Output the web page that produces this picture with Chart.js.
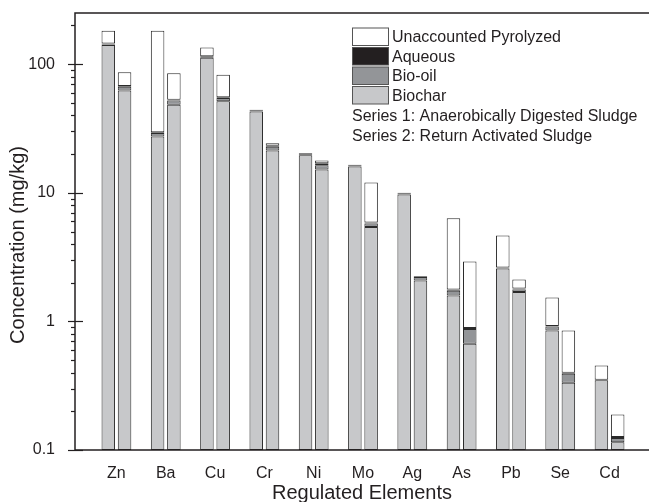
<!DOCTYPE html>
<html>
<head>
<meta charset="utf-8">
<script src="https://cdn.jsdelivr.net/npm/chart.js@4"></script>
<style>
  html, body { margin: 0; padding: 0; background: #fff; overflow: hidden; }
  #wrap { width: 649px; height: 502px; position: relative; }
</style>
</head>
<body>
<div id="wrap"><canvas id="chart"></canvas></div>
<script>
// Categories
const elements = ['Zn', 'Ba', 'Cu', 'Cr', 'Ni', 'Mo', 'Ag', 'As', 'Pb', 'Se', 'Cd'];

// Series 1: Anaerobically Digested Sludge (segment amounts, mg/kg)
const biochar1  = [141, 27.4, 112, 42.8, 19.6, 16.0, 9.7, 1.59, 2.58, 0.851, 0.348];
const bioOil1   = [1.5, 1.8, 1.5, 0.6, 0.3, 0.2, 0.15, 0.14, 0.02, 0.06, 0.002];
const aqueous1  = [2.5, 0.4, 1.5, 0.8, 0.4, 0.3, 0.15, 0.04, 0.02, 0.01, 0.002];
const unacc1    = [37, 152.4, 20, 0, 0, 0, 0, 4.58, 2.04, 0.61, 0.101];

// Series 2: Return Activated Sludge
const biochar2  = [62.4, 48.3, 51.5, 21.3, 15.2, 5.41, 2.08, 0.671, 1.69, 0.334, 0.115];
const bioOil2   = [4.4, 3.8, 3.0, 1.5, 1.2, 0.37, 0.13, 0.2, 0.08, 0.058, 0.009];
const aqueous2  = [1.0, 0.7, 0.8, 0.4, 0.6, 0.1, 0.03, 0.016, 0.03, 0.007, 0.002];
const unacc2    = [18.7, 32.2, 27.3, 1.1, 0.8, 6.12, 0, 2.04, 0.32, 0.452, 0.063];

// Y axis tick labels (powers of ten only)
const yLabels = ['0.1', '1', '10', '100'];
const yTitle = 'Concentration (mg/kg)';

const legendItems = [
    { text: 'Unaccounted Pyrolyzed', color: '#ffffff' },
    { text: 'Aqueous', color: '#231f20' },
    { text: 'Bio-oil', color: '#939598' },
    { text: 'Biochar', color: '#c7c8ca' }
];
const legendNotes = ['Series 1: Anaerobically Digested Sludge', 'Series 2: Return Activated Sludge'];

const ink = '#231f20';
const fontFamily = "'Liberation Sans', Arial, Helvetica, sans-serif";
Chart.defaults.font.family = fontFamily;
Chart.defaults.color = ink;

function makeSet(label, values, color, stack) {
    return {
        label: label,
        data: values.map((v, i) => ({ x: i, y: v })),
        backgroundColor: color,
        borderColor: '#2a2a2a',
        borderWidth: 1,
        borderSkipped: false,
        stack: stack
    };
}

// no extra scale padding so the plot area sits where the layout says
function noPad(axis) {
    axis.paddingTop = 0;
    axis.paddingBottom = 0;
    axis.paddingLeft = 0;
    axis.paddingRight = 0;
}

// Frame, log ticks and the y title, drawn on top of the bars
const framePlugin = {
    id: 'frame',
    afterDatasetsDraw(chart) {
        const { ctx, chartArea: a, scales: { y } } = chart;
        ctx.save();
        ctx.strokeStyle = ink;
        ctx.lineWidth = 1.5;
        ctx.beginPath();
        ctx.moveTo(chart.width, a.top);
        ctx.lineTo(a.left, a.top);
        ctx.lineTo(a.left, a.bottom);
        ctx.lineTo(chart.width, a.bottom);
        ctx.stroke();

        ctx.lineWidth = 1.2;
        y.ticks.forEach(t => {
            const l = Math.log10(t.value);
            const m = t.value / Math.pow(10, Math.floor(l + 1e-9));
            if (Math.abs(m - Math.round(m)) > 1e-6) return;
            const py = Math.round(y.getPixelForValue(t.value)) + 0.5;
            const major = Math.abs(l - Math.round(l)) < 1e-6;
            ctx.beginPath();
            if (major) {
                ctx.moveTo(a.left - 7, py);
                ctx.lineTo(a.left + 8, py);
            } else {
                ctx.moveTo(a.left - 4, py);
                ctx.lineTo(a.left, py);
            }
            ctx.stroke();
        });

        // y title sits a little below the middle of the axis in the original
        ctx.translate(18.5, 245);
        ctx.rotate(-Math.PI / 2);
        ctx.font = '20px ' + fontFamily;
        ctx.fillStyle = ink;
        ctx.textAlign = 'center';
        ctx.textBaseline = 'middle';
        ctx.fillText(yTitle, 0, 0);
        ctx.restore();
    }
};

// Legend box in the upper right
const legendPlugin = {
    id: 'boxLegend',
    afterDraw(chart) {
        const ctx = chart.ctx;
        ctx.save();
        ctx.font = '16px ' + fontFamily;
        ctx.textBaseline = 'alphabetic';
        ctx.fillStyle = ink;
        legendItems.forEach((item, i) => {
            const top = 28 + i * 19.5;
            ctx.fillStyle = item.color;
            ctx.fillRect(352.5, top, 36, 17.5);
            ctx.strokeStyle = '#555';
            ctx.lineWidth = 1;
            ctx.strokeRect(352.5, top, 36, 17.5);
            ctx.fillStyle = ink;
            ctx.fillText(item.text, 392, top + 14);
        });
        legendNotes.forEach((t, i) => {
            ctx.fillText(t, 352, 121 + i * 19.5);
        });
        ctx.restore();
    }
};

new Chart(document.getElementById('chart'), {
    type: 'bar',
    data: {
        datasets: [
            makeSet('Biochar', biochar1, '#c7c8ca', 's1'),
            makeSet('Bio-oil', bioOil1, '#939598', 's1'),
            makeSet('Aqueous', aqueous1, '#231f20', 's1'),
            makeSet('Unaccounted Pyrolyzed', unacc1, '#ffffff', 's1'),
            makeSet('Biochar', biochar2, '#c7c8ca', 's2'),
            makeSet('Bio-oil', bioOil2, '#939598', 's2'),
            makeSet('Aqueous', aqueous2, '#231f20', 's2'),
            makeSet('Unaccounted Pyrolyzed', unacc2, '#ffffff', 's2')
        ]
    },
    options: {
        responsive: true,
        maintainAspectRatio: false,
        animation: false,
        devicePixelRatio: 1,
        categoryPercentage: 0.66,
        barPercentage: 0.83,
        layout: { padding: { top: 13, right: 0, left: 0, bottom: 0 } },
        plugins: {
            legend: { display: false },
            tooltip: { enabled: false }
        },
        scales: {
            x: {
                type: 'linear',
                stacked: true,
                offset: false,
                min: -0.84,
                max: 10.8,
                grid: { display: false },
                border: { display: false },
                afterBuildTicks: axis => {
                    axis.ticks = elements.map((_, i) => ({ value: i }));
                },
                afterFit: axis => { axis.height = 52; noPad(axis); },
                ticks: {
                    autoSkip: false,
                    maxRotation: 0,
                    padding: 6,
                    font: { size: 16 },
                    color: ink,
                    callback: v => elements[v]
                },
                title: {
                    display: true,
                    text: 'Regulated Elements',
                    font: { size: 20, lineHeight: 0.9 },
                    padding: { top: 0, bottom: 0 },
                    color: ink
                }
            },
            y: {
                type: 'logarithmic',
                stacked: true,
                min: 0.1,
                max: 250,
                grid: { display: false },
                border: { display: false },
                afterFit: axis => { axis.width = 75; noPad(axis); },
                ticks: {
                    autoSkip: false,
                    padding: 12,
                    font: { size: 16 },
                    color: ink,
                    callback: v => {
                        const s = String(Number(v.toPrecision(6)));
                        return yLabels.includes(s) ? s : '';
                    }
                },
                title: { display: false }
            }
        }
    },
    plugins: [framePlugin, legendPlugin]
});
</script>
</body>
</html>
